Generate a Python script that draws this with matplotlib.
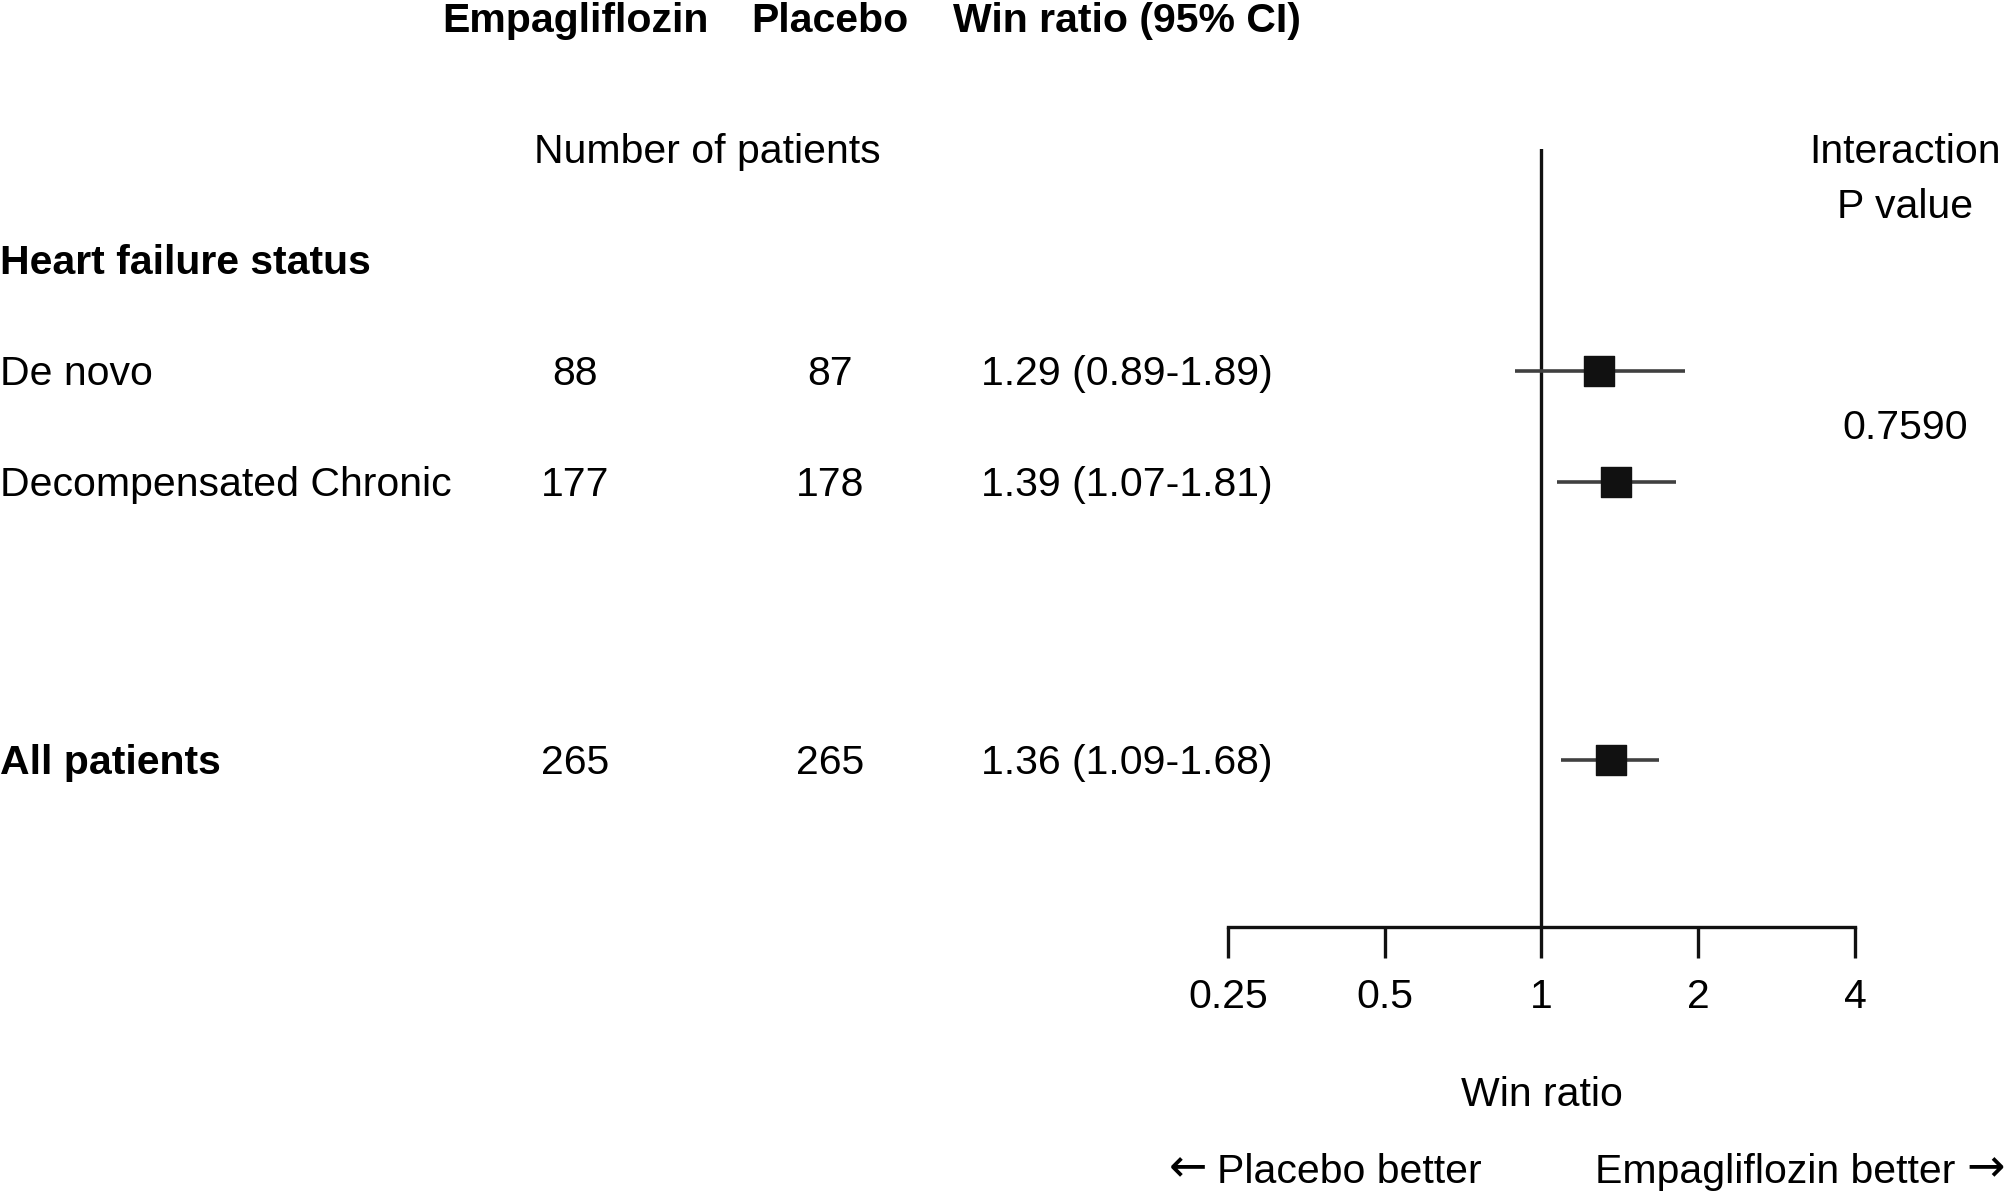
import matplotlib.pyplot as plt
import numpy as np

plt.rcParams['font.family'] = ['Liberation Sans', 'DejaVu Sans']

# data
groups = ["De novo", "Decompensated Chronic", "All patients"]
n_empa = [88, 177, 265]
n_placebo = [87, 178, 265]
win_ratio = [1.29, 1.39, 1.36]
ci_low = [0.89, 1.07, 1.09]
ci_high = [1.89, 1.81, 1.68]
p_interaction = "0.7590"
ticks = [0.25, 0.5, 1, 2, 4]
tick_labels = ["0.25", "0.5", "1", "2", "4"]

W, H = 2008, 1194
fig = plt.figure(figsize=(W / 100, H / 100), dpi=100)
fs = 29.5


def fx(px):
    return px / W


def fy(py):
    return 1 - (py + 3) / H


# row positions in pixels (layout)
row_y = [371, 482, 760]
bold = [False, False, True]

# headers
fig.text(fx(575), fy(18), "Empagliflozin", ha="center", va="center", fontsize=fs, fontweight="bold")
fig.text(fx(830), fy(18), "Placebo", ha="center", va="center", fontsize=fs, fontweight="bold")
fig.text(fx(1127), fy(18), "Win ratio (95% CI)", ha="center", va="center", fontsize=fs, fontweight="bold")
fig.text(fx(707), fy(149), "Number of patients", ha="center", va="center", fontsize=fs)
fig.text(fx(1905), fy(149), "Interaction", ha="center", va="center", fontsize=fs)
fig.text(fx(1905), fy(204), "P value", ha="center", va="center", fontsize=fs)
fig.text(fx(0), fy(260), "Heart failure status", ha="left", va="center", fontsize=fs, fontweight="bold")

for i, g in enumerate(groups):
    y = fy(row_y[i])
    fig.text(fx(0), y, g, ha="left", va="center", fontsize=fs,
             fontweight="bold" if bold[i] else "normal")
    fig.text(fx(575), y, str(n_empa[i]), ha="center", va="center", fontsize=fs)
    fig.text(fx(830), y, str(n_placebo[i]), ha="center", va="center", fontsize=fs)
    fig.text(fx(1127), y, f"{win_ratio[i]:.2f} ({ci_low[i]:.2f}-{ci_high[i]:.2f})",
             ha="center", va="center", fontsize=fs)

fig.text(fx(1905), fy(425), p_interaction, ha="center", va="center", fontsize=fs)

# forest axes
ax = fig.add_axes([fx(1228), 1 - 927 / H, fx(1855 - 1228), (927 - 149) / H])
ax.set_xscale("log", base=2)
ax.set_xlim(0.25, 4)
ax.set_ylim(927, 149)
ax.patch.set_alpha(0)

wr = np.array(win_ratio)
err = np.array([wr - np.array(ci_low), np.array(ci_high) - wr])
ax.errorbar(wr, row_y, xerr=err, fmt="none", ecolor="#404040", elinewidth=2.6, capsize=0, zorder=2)
ax.scatter(wr, row_y, marker="s", s=21 ** 2, color="#111111", zorder=3)
ax.axvline(1, color="#111111", lw=2.4, zorder=1)

for s in ["top", "right", "left"]:
    ax.spines[s].set_visible(False)
ax.spines["bottom"].set_linewidth(2.4)
ax.spines["bottom"].set_color("#111111")
ax.set_yticks([])
ax.set_xticks(ticks)
ax.set_xticklabels(tick_labels)
ax.minorticks_off()
ax.tick_params(axis="x", length=22, width=2.4, color="#111111", labelsize=fs, pad=15)

fig.text(fx(1542), fy(1092), "Win ratio", ha="center", va="center", fontsize=fs)
fig.text(fx(1217), fy(1169), "Placebo better", ha="left", va="center", fontsize=fs)
fig.text(fx(1207), fy(1166), "\u2190", ha="right", va="center", fontsize=33, family="DejaVu Sans")
fig.text(fx(1955), fy(1169), "Empagliflozin better", ha="right", va="center", fontsize=fs)
fig.text(fx(1966), fy(1166), "\u2192", ha="left", va="center", fontsize=33, family="DejaVu Sans")

fig.savefig("out.png", dpi=100)
